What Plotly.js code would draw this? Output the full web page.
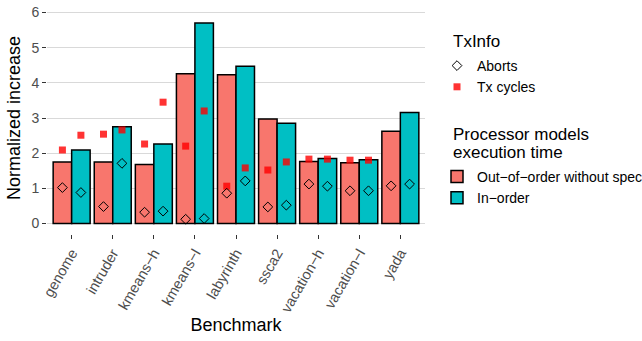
<!DOCTYPE html>
<html>
<head>
<meta charset="utf-8">
<script src="https://cdn.plot.ly/plotly-3.0.1.min.js"></script>
<style>html,body{margin:0;padding:0;background:#fff;}#chart{width:642px;height:341px;}</style>
</head>
<body>
<div id="chart"></div>
<script>
const benchmarks = ["genome","intruder","kmeans\u2212h","kmeans\u2212l","labyrinth","ssca2","vacation\u2212h","vacation\u2212l","yada"];
const execOoO = [1.75,1.75,1.68,4.26,4.23,2.97,1.76,1.73,2.62];
const execInO = [2.09,2.75,2.26,5.70,4.47,2.85,1.85,1.81,3.16];
const cyclesOoO = [2.09,2.54,2.26,2.20,1.06,1.52,1.83,1.80,null];
const cyclesInO = [2.51,2.66,3.45,3.20,1.58,1.75,1.83,1.80,null];
const abortsOoO = [1.02,0.48,0.32,0.12,0.86,0.47,1.12,0.93,1.07];
const abortsInO = [0.88,1.71,0.35,0.14,1.21,0.52,1.06,0.93,1.12];
const yTicks = [0,1,2,3,4,5,6];

const idx = benchmarks.map((_, i) => i);
const half = 0.45;
const xO = idx.map(i => i - half / 2);
const xI = idx.map(i => i + half / 2);

const traces = [
  {type:'bar', x: idx, y: execOoO, offset: -half, width: half, name: 'Out\u2212of\u2212order without spec',
   marker:{color:'#F8766D', line:{color:'#000', width:1.5}}, legend:'legend2'},
  {type:'bar', x: idx, y: execInO, offset: 0, width: half, name: 'In\u2212order',
   marker:{color:'#00BFC4', line:{color:'#000', width:1.5}}, legend:'legend2'},
  {type:'scatter', mode:'markers', x: xO.concat(xI), y: cyclesOoO.concat(cyclesInO), name:'Tx cycles',
   marker:{symbol:'square', size:7, color:'rgba(255,0,0,0.8)'}, legend:'legend'},
  {type:'scatter', mode:'markers', x: xO.concat(xI), y: abortsOoO.concat(abortsInO), name:'Aborts',
   marker:{symbol:'diamond-open', size:7.5, color:'#000', line:{width:1}}, legend:'legend'}
];

const FONT = 'Liberation Sans, Arial, sans-serif';
const layout = {
  width: 642, height: 341,
  margin: {l:47, r:217, t:2, b:107},
  paper_bgcolor:'#fff', plot_bgcolor:'#fff',
  font:{family:FONT, color:'#000'},
  barmode:'overlay',
  xaxis:{
    range:[-0.6, 8.6], tickmode:'array', tickvals: idx, ticktext: benchmarks,
    tickangle:-60, showgrid:false, zeroline:false, ticks:'outside', ticklen:4, tickcolor:'#333',
    tickfont:{size:14.5, color:'#4D4D4D'},
    title:{text:'Benchmark', font:{size:18, color:'#000'}, standoff:4}
  },
  yaxis:{
    range:[-0.3, 6.3], tickmode:'array', tickvals: yTicks, showgrid:true, gridcolor:'#D9D9D9', gridwidth:1,
    zeroline:false, ticks:'outside', ticklen:4, tickcolor:'#333',
    tickfont:{size:14, color:'#4D4D4D'},
    title:{text:'Normalized increase', font:{size:18, color:'#000'}, standoff:6}
  },
  legend:{
    xref:'container', yref:'container', x:437/642, y:1-50/341, xanchor:'left', yanchor:'top',
    font:{size:14}, traceorder:'reversed', itemwidth:30, tracegroupgap:0
  },
  legend2:{
    xref:'container', yref:'container', x:437/642, y:1-161/341, xanchor:'left', yanchor:'top',
    font:{size:14}, traceorder:'normal', itemwidth:30
  },
  annotations:[
    {xref:'paper', yref:'paper', x:(451-47)/(642-47-217), y:1-(41-2)/232, xanchor:'left', yanchor:'middle',
     text:'TxInfo', showarrow:false, font:{size:17, color:'#000', family:FONT}},
    {xref:'paper', yref:'paper', x:(451-47)/(642-47-217), y:1-(134-2)/232, xanchor:'left', yanchor:'middle',
     text:'Processor models', showarrow:false, font:{size:17, color:'#000', family:FONT}},
    {xref:'paper', yref:'paper', x:(451-47)/(642-47-217), y:1-(152-2)/232, xanchor:'left', yanchor:'middle',
     text:'execution time', showarrow:false, font:{size:17, color:'#000', family:FONT}}
  ],
  showlegend:true
};

Plotly.newPlot('chart', traces, layout, {displayModeBar:false, staticPlot:true});
</script>
</body>
</html>
